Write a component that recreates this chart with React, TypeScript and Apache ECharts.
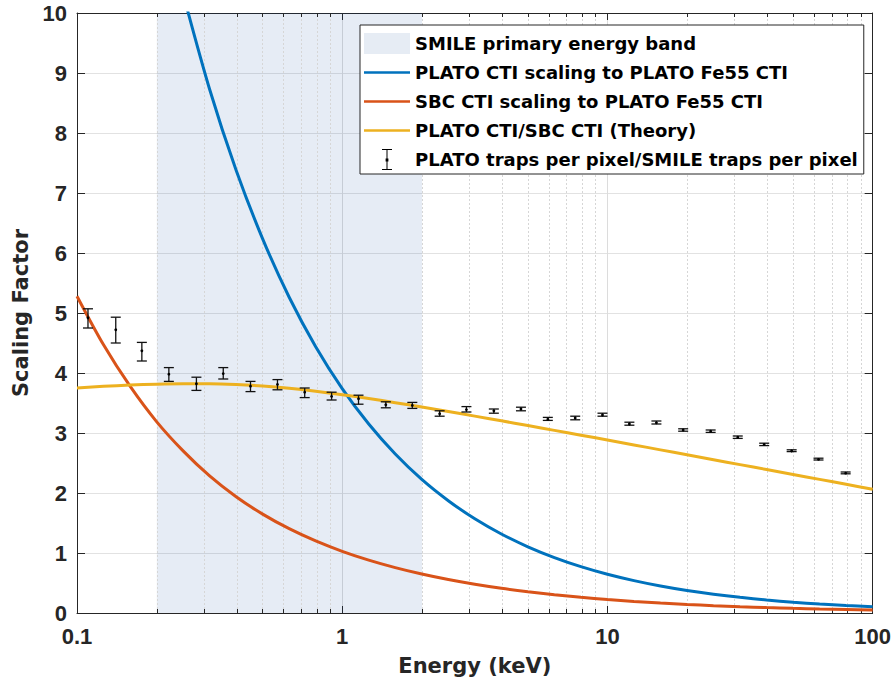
import React, { useEffect, useRef } from "react";
import * as echarts from "echarts";

// ---- Data ----
const bandRange = [0.2, 2];

// energies (keV), 10 per decade
const energy = [0.1, 0.1259, 0.1585, 0.1995, 0.2512, 0.3162, 0.3981, 0.5012, 0.631, 0.7943, 1, 1.259, 1.585, 1.995, 2.512, 3.162, 3.981, 5.012, 6.31, 7.943, 10, 12.59, 15.85, 19.95, 25.12, 31.62, 39.81, 50.12, 63.1, 79.43, 100];

// PLATO CTI scaling (blue) starts at energy[4]
const blueE = [0.2512, 0.3162, 0.3981, 0.5012, 0.631, 0.7943, 1, 1.259, 1.585, 1.995, 2.512, 3.162, 3.981, 5.012, 6.31, 7.943, 10, 12.59, 15.85, 19.95, 25.12, 31.62, 39.81, 50.12, 63.1, 79.43, 100];
const blueV = [10.32, 8.73, 7.38, 6.236, 5.263, 4.439, 3.74, 3.149, 2.65, 2.227, 1.872, 1.57, 1.317, 1.104, 0.924, 0.773, 0.646, 0.54, 0.4505, 0.3756, 0.3131, 0.2606, 0.2168, 0.1803, 0.1497, 0.1242, 0.103];

const redV = [5.28, 4.47, 3.78, 3.19, 2.702, 2.285, 1.938, 1.648, 1.405, 1.201, 1.028, 0.881, 0.756, 0.649, 0.557, 0.4785, 0.411, 0.3534, 0.3035, 0.2608, 0.2241, 0.1928, 0.1657, 0.1424, 0.1225, 0.1054, 0.0907, 0.0781, 0.0672, 0.0579, 0.0499];

const yellowV = [3.75, 3.778, 3.799, 3.813, 3.82, 3.82, 3.808, 3.783, 3.745, 3.696, 3.638, 3.574, 3.505, 3.433, 3.358, 3.281, 3.203, 3.124, 3.044, 2.964, 2.883, 2.801, 2.719, 2.637, 2.555, 2.473, 2.391, 2.309, 2.227, 2.145, 2.063];

const errE = [0.11, 0.14, 0.1756, 0.222, 0.282, 0.356, 0.451, 0.57, 0.722, 0.912, 1.152, 1.46, 1.838, 2.33, 2.94, 3.73, 4.72, 5.96, 7.56, 9.58, 12.1, 15.3, 19.3, 24.5, 31.0, 39.0, 49.5, 62.5, 79.1];
const errV = [4.92, 4.72, 4.37, 3.98, 3.82, 3.99, 3.78, 3.81, 3.68, 3.61, 3.57, 3.47, 3.46, 3.32, 3.39, 3.37, 3.4, 3.23, 3.25, 3.3, 3.15, 3.17, 3.05, 3.03, 2.93, 2.81, 2.7, 2.56, 2.33];
const errLo = [4.75, 4.5, 4.2, 3.86, 3.71, 3.9, 3.69, 3.72, 3.59, 3.55, 3.48, 3.42, 3.41, 3.28, 3.35, 3.33, 3.37, 3.21, 3.22, 3.28, 3.13, 3.15, 3.03, 3.01, 2.91, 2.79, 2.69, 2.55, 2.32];
const errHi = [5.07, 4.93, 4.51, 4.09, 3.93, 4.09, 3.86, 3.89, 3.75, 3.68, 3.63, 3.52, 3.51, 3.37, 3.44, 3.4, 3.43, 3.26, 3.28, 3.33, 3.18, 3.2, 3.07, 3.05, 2.95, 2.83, 2.72, 2.58, 2.35];

const minorTicks = [0.2, 0.3, 0.4, 0.5, 0.6, 0.7, 0.8, 0.9, 2, 3, 4, 5, 6, 7, 8, 9, 20, 30, 40, 50, 60, 70, 80, 90];

const xMin = 0.1;
const xMax = 100;
const yMin = 0;
const yMax = 10;

const names = {
  band: "SMILE primary energy band",
  blue: "PLATO CTI scaling to PLATO Fe55 CTI",
  red: "SBC CTI scaling to PLATO Fe55 CTI",
  yellow: "PLATO CTI/SBC CTI (Theory)",
  err: "PLATO traps per pixel/SMILE traps per pixel",
};

const colors = { blue: "#0072BD", red: "#D95319", yellow: "#EDB120", band: "#e6ecf4" };

const AX = "#262626";
const labelFont = "'Liberation Sans', Arial, sans-serif";
const textFont = "'DejaVu Sans', sans-serif";

const anchors = "M0,0h0.01v0.01z M46,21h-0.01v-0.01z ";
const errIcon = "path://" + anchors + "M18,0H28V1H23.5V20H28V21H18V20H22.5V1H18Z M21.6,9.6H24.4V12.4H21.6Z";
const lineIcon = "path://" + anchors + "M0,9.2H46V11.8H0Z";

export default function App() {
  const ref = useRef<HTMLDivElement>(null);

  useEffect(() => {
    if (!ref.current) return;
    const chart = echarts.init(ref.current, undefined, { renderer: "svg" });

    const zip = (a: number[], b: number[]) => a.map((v, i) => [v, b[i]]);
    const lineSeries = (name: string, e: number[], v: number[], color: string) => ({
      name,
      type: "line",
      data: zip(e, v),
      symbol: "none",
      smooth: 0.3,
      clip: true,
      z: 3,
      color,
      lineStyle: { color, width: 3 },
    });

    const option: any = {
      animation: false,
      backgroundColor: "#fff",
      grid: { left: 77, right: 20, top: 13, bottom: 74, containLabel: false },
      xAxis: [
        {
          type: "log",
          logBase: 10,
          min: xMin,
          max: xMax,
          name: "Energy (keV)",
          nameLocation: "middle",
          nameGap: 42,
          nameTextStyle: { fontFamily: textFont, fontWeight: "bold", fontSize: 21, color: AX },
          axisLine: { show: true, onZero: false, lineStyle: { color: AX, width: 1 } },
          axisTick: { show: true, inside: true, length: 7, lineStyle: { color: AX } },
          axisLabel: { fontFamily: labelFont, fontWeight: "bold", fontSize: 22, color: AX, margin: 12 },
          splitLine: { show: true, lineStyle: { color: "#dcdcdc", width: 1 } },
        },
        {
          type: "log",
          logBase: 10,
          min: xMin,
          max: xMax,
          position: "top",
          axisLine: { show: true, onZero: false, lineStyle: { color: AX, width: 1 } },
          axisTick: { show: true, inside: true, length: 7, lineStyle: { color: AX } },
          axisLabel: { show: false },
          splitLine: { show: false },
        },
      ],
      yAxis: [
        {
          type: "value",
          min: yMin,
          max: yMax,
          interval: 1,
          name: "Scaling Factor",
          nameLocation: "middle",
          nameGap: 42,
          nameTextStyle: { fontFamily: textFont, fontWeight: "bold", fontSize: 21, color: AX },
          axisLine: { show: true, onZero: false, lineStyle: { color: AX, width: 1 } },
          axisTick: { show: true, inside: true, length: 8, lineStyle: { color: AX } },
          axisLabel: { fontFamily: labelFont, fontWeight: "bold", fontSize: 22, color: AX, margin: 10 },
          splitLine: { show: true, lineStyle: { color: "#e2e2e2", width: 1 } },
        },
        {
          type: "value",
          min: yMin,
          max: yMax,
          interval: 1,
          position: "right",
          axisLine: { show: true, onZero: false, lineStyle: { color: AX, width: 1 } },
          axisTick: { show: true, inside: true, length: 8, lineStyle: { color: AX } },
          axisLabel: { show: false },
          splitLine: { show: false },
        },
      ],
      legend: {
        orient: "vertical",
        left: 360,
        top: 25,
        backgroundColor: "#fff",
        borderColor: AX,
        borderWidth: 1,
        borderRadius: 0,
        padding: [8, 6, 4, 4],
        itemWidth: 46,
        itemHeight: 21,
        itemGap: 8,
        selectedMode: false,
        textStyle: { fontFamily: textFont, fontWeight: "bold", fontSize: 18, color: "#000" },
        data: [
          { name: names.band, icon: "rect", itemStyle: { color: colors.band, borderWidth: 0 } },
          { name: names.blue, icon: lineIcon, itemStyle: { color: colors.blue, borderWidth: 0 } },
          { name: names.red, icon: lineIcon, itemStyle: { color: colors.red, borderWidth: 0 } },
          { name: names.yellow, icon: lineIcon, itemStyle: { color: colors.yellow, borderWidth: 0 } },
          { name: names.err, icon: errIcon, itemStyle: { color: "#000", borderWidth: 0 } },
        ],
      },
      series: [
        {
          name: names.band,
          type: "custom",
          silent: true,
          z: 1,
          itemStyle: { color: colors.band },
          encode: { x: [0, 1] },
          data: [[bandRange[0], bandRange[1]]],
          renderItem: (params: any, api: any) => {
            const p0 = api.coord([api.value(0), yMax]);
            const p1 = api.coord([api.value(1), yMin]);
            return {
              type: "rect",
              shape: { x: p0[0], y: p0[1], width: p1[0] - p0[0], height: p1[1] - p0[1] },
              style: { fill: "rgba(5,65,155,0.1)" },
            };
          },
        },
        {
          name: "minor",
          type: "custom",
          silent: true,
          z: 1,
          encode: { x: 0, y: 1 },
          data: minorTicks.map((v) => [v, yMin]),
          renderItem: (params: any, api: any) => {
            const b = api.coord([api.value(0), yMin]);
            const t = api.coord([api.value(0), yMax]);
            const x = Math.round(b[0]) + 0.5;
            return {
              type: "group",
              children: [
                {
                  type: "line",
                  shape: { x1: x, y1: b[1], x2: x, y2: t[1] },
                  style: { stroke: "#d6d6d6", lineWidth: 1, lineDash: [2, 2] },
                },
                {
                  type: "line",
                  shape: { x1: x, y1: b[1], x2: x, y2: b[1] - 4 },
                  style: { stroke: AX, lineWidth: 1 },
                },
                {
                  type: "line",
                  shape: { x1: x, y1: t[1], x2: x, y2: t[1] + 4 },
                  style: { stroke: AX, lineWidth: 1 },
                },
              ],
            };
          },
        },
        lineSeries(names.blue, blueE, blueV, colors.blue),
        lineSeries(names.red, energy, redV, colors.red),
        lineSeries(names.yellow, energy, yellowV, colors.yellow),
        {
          name: names.err,
          type: "custom",
          z: 4,
          itemStyle: { color: "#000" },
          encode: { x: 0, y: [1, 2, 3] },
          data: errE.map((e, i) => [e, errV[i], errLo[i], errHi[i]]),
          renderItem: (params: any, api: any) => {
            const x = api.value(0);
            const pm = api.coord([x, api.value(1)]);
            const pl = api.coord([x, api.value(2)]);
            const ph = api.coord([x, api.value(3)]);
            const cap = 5;
            const st = { stroke: "#111", lineWidth: 1.3 };
            return {
              type: "group",
              children: [
                { type: "line", shape: { x1: ph[0], y1: ph[1], x2: pl[0], y2: pl[1] }, style: st },
                { type: "line", shape: { x1: ph[0] - cap, y1: ph[1], x2: ph[0] + cap, y2: ph[1] }, style: st },
                { type: "line", shape: { x1: pl[0] - cap, y1: pl[1], x2: pl[0] + cap, y2: pl[1] }, style: st },
                { type: "circle", shape: { cx: pm[0], cy: pm[1], r: 1.4 }, style: { fill: "#000" } },
              ],
            };
          },
        },
      ],
    };

    chart.setOption(option);
    return () => {
      chart.dispose();
    };
  }, []);

  return (
    <div
      ref={ref}
      style={{ position: "fixed", left: 0, top: 0, width: 894, height: 687, background: "#fff" }}
    />
  );
}
